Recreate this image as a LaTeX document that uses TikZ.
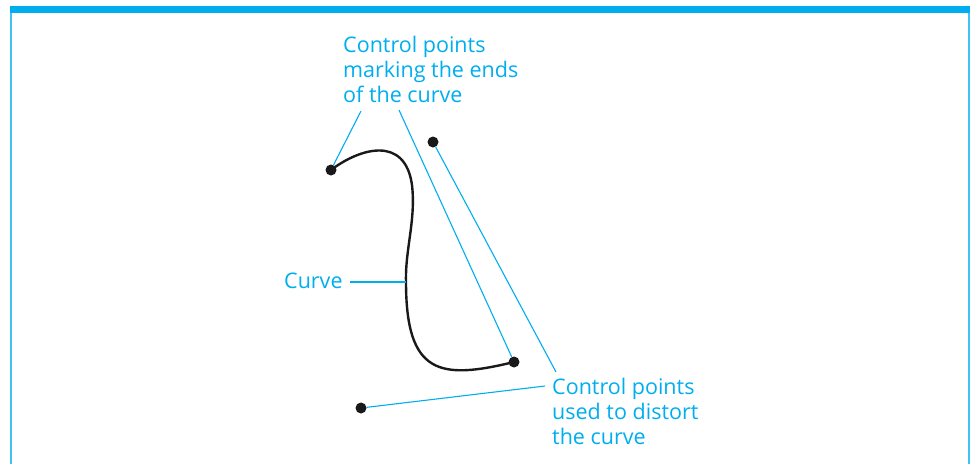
\documentclass[tikz,border=0pt]{standalone}
\usepackage{fontspec}
\setmainfont{Open Sans}
\usetikzlibrary{positioning}
\definecolor{procblue}{RGB}{0,174,239}

\begin{document}
\begin{tikzpicture}[x=1pt, y=-1pt,
    lbl/.style={text=procblue, font=\fontsize{21.5}{25}\selectfont, align=left, anchor=base west, inner sep=0pt},
    leader/.style={draw=procblue, line width=1.1pt},
    ctrl/.style={circle, fill=black!90, inner sep=0pt, minimum size=11pt}]
\useasboundingbox (0,0) rectangle (974,464);
\fill[procblue] (10,6) rectangle (970,13);
\draw[procblue!75, line width=2pt] (11,13) -- (11,464);
\draw[procblue!75, line width=1.5pt] (969,13) -- (969,464);

\node[ctrl] (start) at (331,170) {};
\node[ctrl] (finish) at (514,362) {};
\node[ctrl] (pullA) at (433,142) {};
\node[ctrl] (pullB) at (361,408) {};

\draw[black!90, line width=2.4pt] (start.center) .. controls (360,148) and (405,135) .. (412,185)
    .. controls (416,220) and (405,250) .. (406,282) coordinate (oncurve)
    .. controls (406,375) and (440,380) .. (finish.center);

\node[lbl] (ends) at (343,102) {Control points\\marking the ends\\of the curve};
\node[lbl] (distort) at (552,444) {Control points\\used to distort\\the curve};
\node[lbl] (curvelbl) at (284,288) {Curve};

\coordinate (endsA) at (361,111);
\coordinate (endsB) at (399,110);
\coordinate (distortA) at (556,372);
\coordinate (distortB) at (545,386);
\coordinate (curveA) at (350,282);

\draw[leader] (endsA) -- (start);
\draw[leader] (endsB) -- (finish);
\draw[leader] (distortA) -- (pullA);
\draw[leader] (distortB) -- (pullB);
\draw[leader] (curveA) -- (oncurve);
\end{tikzpicture}
\end{document}
